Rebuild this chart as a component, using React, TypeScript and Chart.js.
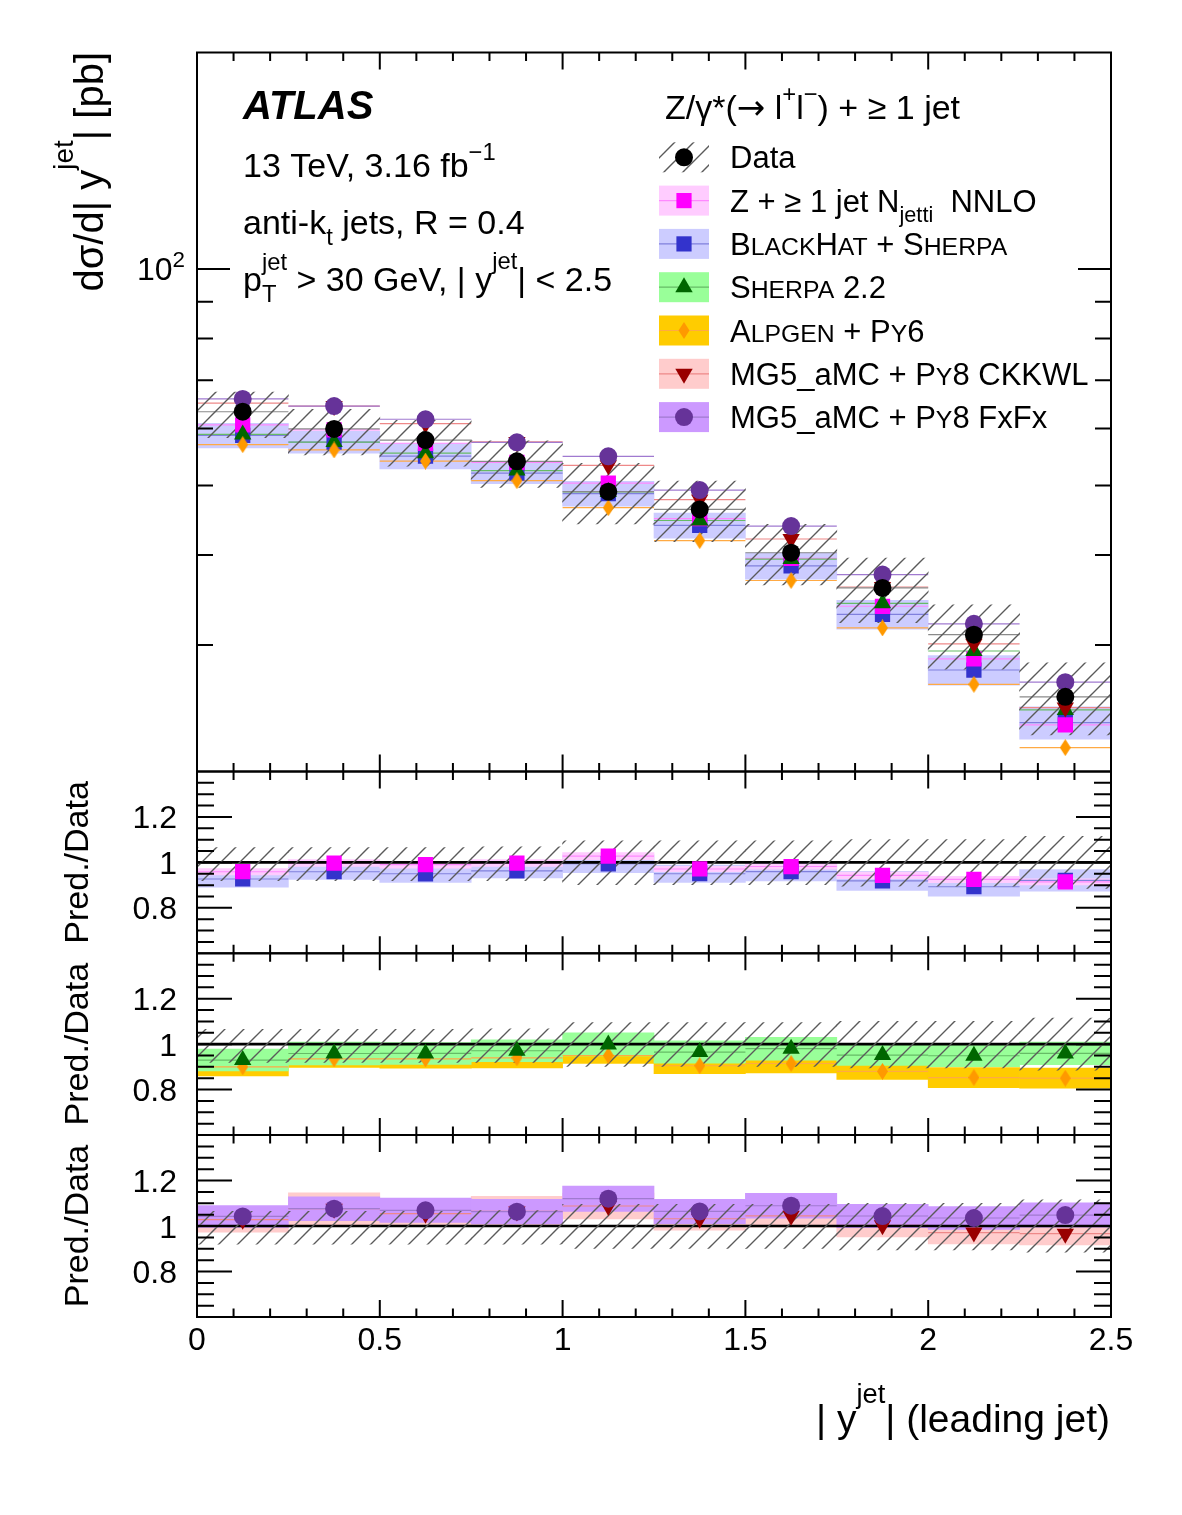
import { useEffect, useRef } from "react";
import { Chart, registerables } from "chart.js";

Chart.register(...registerables);

// ---------------- data ----------------
// |y| bins of the leading jet
const binEdges = [0, 0.25, 0.5, 0.75, 1.0, 1.25, 1.5, 1.75, 2.0, 2.25, 2.5];
const binCenters = [0.125, 0.375, 0.625, 0.875, 1.125, 1.375, 1.625, 1.875, 2.125, 2.375];

// measured dσ/d|y| [pb] with relative total uncertainty
const dataXs = [63.3, 59.9, 57.8, 54.0, 49.0, 46.3, 40.3, 36.0, 31.0, 25.4];
const dataUncUp = [0.065, 0.065, 0.065, 0.068, 0.095, 0.095, 0.095, 0.1, 0.1, 0.115];
const dataUncDown = [0.08, 0.08, 0.08, 0.08, 0.098, 0.098, 0.098, 0.105, 0.105, 0.115];

// predictions [pb] and their relative uncertainties
const nnloXs = [60.7, 59.72, 57.22, 53.84, 50.37, 44.96, 39.57, 33.95, 28.68, 23.22];
const nnloUnc = [0.015, 0.015, 0.015, 0.015, 0.015, 0.012, 0.012, 0.015, 0.015, 0.015];

const blackhatXs = [58.68, 57.44, 54.91, 52.0, 48.71, 43.99, 38.65, 33.08, 27.68, 23.39];
const blackhatUnc = [0.039, 0.035, 0.04, 0.033, 0.04, 0.04, 0.042, 0.046, 0.047, 0.052];

const sherpaXs = [58.87, 57.44, 55.43, 52.43, 48.95, 44.68, 39.49, 34.27, 29.42, 24.36];
const sherpaUnc = [0.052, 0.052, 0.05, 0.049, 0.051, 0.051, 0.051, 0.048, 0.051, 0.052];

const alpgenXs = [56.97, 56.01, 54.04, 50.76, 46.55, 41.9, 36.87, 31.68, 26.44, 21.59];
const alpgenUnc = [0.044, 0.04, 0.044, 0.047, 0.037, 0.039, 0.045, 0.04, 0.052, 0.052];

const ckkwlXs = [65.07, 64.45, 60.92, 57.46, 53.31, 47.78, 42.11, 36.11, 30.1, 24.54];
const ckkwlUnc = [0.054, 0.065, 0.053, 0.062, 0.052, 0.049, 0.048, 0.051, 0.051, 0.051];

const fxfxXs = [65.96, 64.45, 61.79, 57.4, 54.88, 49.26, 43.89, 37.58, 32.09, 26.62];
const fxfxUnc = [0.046, 0.049, 0.05, 0.051, 0.05, 0.05, 0.05, 0.049, 0.049, 0.051];

// axis ticks
const xTickLabels = ["0", "0.5", "1", "1.5", "2", "2.5"];
const ratioTickLabels = ["0.8", "1", "1.2"];
const logMajorTicks = [100];
const logMinorTicks = [30, 40, 50, 60, 70, 80, 90];

// ---------------- styling ----------------
const FONT = "'Liberation Sans', Arial, Helvetica, sans-serif";
const SYMBOL_FONT = "'DejaVu Sans', 'Liberation Sans', sans-serif";
const W = 1182;
const H = 1515;
const FRAME_L = 197;
const FRAME_R = 1111;

type MarkerKind = "circle" | "square" | "triangle" | "invtriangle" | "diamond";
type Run = { t: string; k?: "sup" | "sub" | "sc" | "stack"; dy?: number; t2?: string; f?: string };

interface Series {
  values: number[];
  unc: number[];
  marker: MarkerKind;
  color: string;
  band: string;
  line: string;
  legend: Run[];
}

const nnlo: Series = {
  values: nnloXs, unc: nnloUnc, marker: "square",
  color: "#ff00ff", band: "#ffccff", line: "#ff88ff",
  legend: [{ t: "Z + \u2265 1 jet N" }, { t: "jetti", k: "sub" }, { t: "  NNLO" }],
};
const blackhat: Series = {
  values: blackhatXs, unc: blackhatUnc, marker: "square",
  color: "#3333cc", band: "#ccccff", line: "#8080dd",
  legend: [{ t: "B" }, { t: "LACK", k: "sc" }, { t: "H" }, { t: "AT", k: "sc" }, { t: " + " }, { t: "S" }, { t: "HERPA", k: "sc" }],
};
const sherpa: Series = {
  values: sherpaXs, unc: sherpaUnc, marker: "triangle",
  color: "#006600", band: "#99ff99", line: "#66bb66",
  legend: [{ t: "S" }, { t: "HERPA", k: "sc" }, { t: " 2.2" }],
};
const alpgen: Series = {
  values: alpgenXs, unc: alpgenUnc, marker: "diamond",
  color: "#ff9900", band: "#ffcc00", line: "#ffaa44",
  legend: [{ t: "A" }, { t: "LPGEN", k: "sc" }, { t: " + " }, { t: "P" }, { t: "Y", k: "sc" }, { t: "6" }],
};
const ckkwl: Series = {
  values: ckkwlXs, unc: ckkwlUnc, marker: "invtriangle",
  color: "#990000", band: "#ffcccc", line: "#ee8888",
  legend: [{ t: "MG5_aMC + " }, { t: "P" }, { t: "Y", k: "sc" }, { t: "8 CKKWL" }],
};
const fxfx: Series = {
  values: fxfxXs, unc: fxfxUnc, marker: "circle",
  color: "#663399", band: "#cc99ff", line: "#a07ad0",
  legend: [{ t: "MG5_aMC + " }, { t: "P" }, { t: "Y", k: "sc" }, { t: "8 FxFx" }],
};
const dataSeries: Series = {
  values: dataXs, unc: dataUncUp, marker: "circle",
  color: "#000000", band: "none", line: "#8a8a8a",
  legend: [{ t: "Data" }],
};

const legendRows: Series[] = [dataSeries, nnlo, blackhat, sherpa, alpgen, ckkwl, fxfx];

interface PanelCfg {
  top: number;
  bottom: number;
  ratio: boolean;
  bands: Series[];
  lines: Series[];
  markers: Series[];
  last?: boolean;
}

const panels: PanelCfg[] = [
  {
    top: 52.5, bottom: 771.5, ratio: false,
    bands: [blackhat],
    lines: [blackhat, nnlo, sherpa, alpgen, ckkwl, fxfx, dataSeries],
    markers: [blackhat, nnlo, sherpa, alpgen, ckkwl, fxfx, dataSeries],
  },
  { top: 771.5, bottom: 953.3, ratio: true, bands: [blackhat, nnlo], lines: [blackhat, nnlo], markers: [blackhat, nnlo] },
  { top: 953.3, bottom: 1135, ratio: true, bands: [alpgen, sherpa], lines: [alpgen, sherpa], markers: [alpgen, sherpa] },
  { top: 1135, bottom: 1317, ratio: true, bands: [ckkwl, fxfx], lines: [ckkwl, fxfx], markers: [ckkwl, fxfx], last: true },
];

// ---------------- helpers ----------------
function font(size: number, bold = false, italic = false, family = FONT) {
  return `${italic ? "italic " : ""}${bold ? "bold " : ""}${size}px ${family}`;
}

function runStyle(r: Run, base: number) {
  if (r.k === "sup") return { size: base * 0.7, dy: (r.dy ?? -0.45) * base };
  if (r.k === "sub") return { size: base * 0.7, dy: (r.dy ?? 0.32) * base };
  if (r.k === "sc") return { size: base * 0.8, dy: 0 };
  return { size: base, dy: 0 };
}

function richWidth(ctx: CanvasRenderingContext2D, runs: Run[], base: number, bold = false, italic = false) {
  let w = 0;
  for (const r of runs) {
    if (r.k === "stack") {
      ctx.font = font(base * 0.7, bold, italic);
      w += Math.max(ctx.measureText(r.t).width, ctx.measureText(r.t2 || "").width);
    } else {
      const s = runStyle(r, base);
      ctx.font = font(s.size, bold, italic, r.f || FONT);
      w += ctx.measureText(r.t).width;
    }
  }
  return w;
}

function drawRich(
  ctx: CanvasRenderingContext2D, runs: Run[], x: number, y: number, base: number,
  align: "left" | "right" | "center" = "left", bold = false, italic = false,
) {
  const w = richWidth(ctx, runs, base, bold, italic);
  let cx = align === "right" ? x - w : align === "center" ? x - w / 2 : x;
  ctx.textAlign = "left";
  ctx.textBaseline = "alphabetic";
  ctx.fillStyle = "#000";
  for (const r of runs) {
    if (r.k === "stack") {
      ctx.font = font(base * 0.7, bold, italic);
      ctx.fillText(r.t, cx, y + (r.dy ?? -0.6) * base);
      ctx.fillText(r.t2 || "", cx, y + 0.32 * base);
      cx += Math.max(ctx.measureText(r.t).width, ctx.measureText(r.t2 || "").width);
    } else {
      const s = runStyle(r, base);
      ctx.font = font(s.size, bold, italic, r.f || FONT);
      ctx.fillText(r.t, cx, y + s.dy);
      cx += ctx.measureText(r.t).width;
    }
  }
}

function drawRichRotated(ctx: CanvasRenderingContext2D, runs: Run[], x: number, y: number, base: number, align: "left" | "right" | "center") {
  ctx.save();
  ctx.translate(x, y);
  ctx.rotate(-Math.PI / 2);
  drawRich(ctx, runs, 0, 0, base, align);
  ctx.restore();
}

function makeHatch(ctx: CanvasRenderingContext2D): CanvasPattern {
  const s = 19;
  const tile = document.createElement("canvas");
  tile.width = s;
  tile.height = s;
  const c = tile.getContext("2d")!;
  c.strokeStyle = "#5a5a5a";
  c.lineWidth = 1.4;
  c.beginPath();
  c.moveTo(-2, s + 2);
  c.lineTo(s + 2, -2);
  c.moveTo(-2, 2);
  c.lineTo(2, -2);
  c.moveTo(s - 2, s + 2);
  c.lineTo(s + 2, s - 2);
  c.stroke();
  return ctx.createPattern(tile, "repeat")!;
}

function makeDiamond(color: string): HTMLCanvasElement {
  const c = document.createElement("canvas");
  c.width = 11;
  c.height = 17;
  const g = c.getContext("2d")!;
  g.fillStyle = color;
  g.beginPath();
  g.moveTo(5.5, 0);
  g.lineTo(11, 8.5);
  g.lineTo(5.5, 17);
  g.lineTo(0, 8.5);
  g.closePath();
  g.fill();
  return c;
}

function pointOpts(kind: MarkerKind, color: string) {
  switch (kind) {
    case "circle":
      return { pointStyle: "circle", pointRadius: 9, rotation: 0 };
    case "square":
      return { pointStyle: "rect", pointRadius: 10.8, rotation: 0 };
    case "triangle":
      return { pointStyle: "triangle", pointRadius: 10, rotation: 0 };
    case "invtriangle":
      return { pointStyle: "triangle", pointRadius: 10, rotation: 180 };
    default:
      return { pointStyle: makeDiamond(color), pointRadius: 8.5, rotation: 0 };
  }
}

function drawMarker(ctx: CanvasRenderingContext2D, kind: MarkerKind, x: number, y: number, color: string) {
  ctx.fillStyle = color;
  ctx.beginPath();
  if (kind === "circle") ctx.arc(x, y, 9, 0, Math.PI * 2);
  else if (kind === "square") ctx.rect(x - 7.6, y - 7.6, 15.2, 15.2);
  else if (kind === "triangle") {
    ctx.moveTo(x, y - 10);
    ctx.lineTo(x + 8.7, y + 5);
    ctx.lineTo(x - 8.7, y + 5);
  } else if (kind === "invtriangle") {
    ctx.moveTo(x, y + 10);
    ctx.lineTo(x + 8.7, y - 5);
    ctx.lineTo(x - 8.7, y - 5);
  } else {
    ctx.moveTo(x, y - 8.5);
    ctx.lineTo(x + 5.5, y);
    ctx.lineTo(x, y + 8.5);
    ctx.lineTo(x - 5.5, y);
  }
  ctx.closePath();
  ctx.fill();
}

// value shown in a panel: absolute in the main pad, Pred./Data in the ratio pads
function shown(cfg: PanelCfg, s: Series, i: number) {
  return cfg.ratio ? s.values[i] / dataXs[i] : s.values[i];
}

function buildChart(canvas: HTMLCanvasElement, cfg: PanelCfg): Chart {
  const ctx = canvas.getContext("2d")!;
  const hatch = makeHatch(ctx);

  const datasets: any[] = [];
  for (const s of cfg.bands) {
    datasets.push({
      type: "bar",
      data: binCenters.map((x, i) => {
        const v = shown(cfg, s, i);
        return { x, y: [v * (1 - s.unc[i]), v * (1 + s.unc[i])] };
      }),
      backgroundColor: s.band,
      borderWidth: 0,
      grouped: false,
      barPercentage: 1,
      categoryPercentage: 1,
    });
  }
  datasets.push({
    type: "bar",
    role: "hatch",
    data: binCenters.map((x, i) => {
      const v = cfg.ratio ? 1 : dataXs[i];
      return { x, y: [v * (1 - dataUncDown[i]), v * (1 + dataUncUp[i])] };
    }),
    backgroundColor: hatch,
    borderWidth: 0,
    grouped: false,
    barPercentage: 1,
    categoryPercentage: 1,
  });
  for (const s of cfg.markers) {
    const p = pointOpts(s.marker, s.color);
    datasets.push({
      type: "scatter",
      data: binCenters.map((x, i) => ({ x, y: shown(cfg, s, i) })),
      pointStyle: p.pointStyle,
      pointRadius: p.pointRadius,
      pointRotation: p.rotation,
      pointBackgroundColor: s.color,
      pointBorderWidth: 0,
      showLine: false,
    });
  }
  // first entry is painted first
  datasets.forEach((d, i) => (d.order = datasets.length - i));

  const plugin = {
    id: "pad",
    beforeDatasetDraw(chart: any, args: any) {
      const ds = chart.data.datasets[args.index];
      if (ds.role !== "hatch") return;
      const { ctx: c, chartArea: a } = chart;
      const xs = chart.scales.x;
      const ys = chart.scales.y;
      c.save();
      c.beginPath();
      c.rect(a.left, a.top, a.right - a.left, a.bottom - a.top);
      c.clip();
      c.lineWidth = 1.2;
      for (const s of cfg.lines) {
        if (cfg.ratio && s === dataSeries) continue;
        c.strokeStyle = s.line;
        for (let i = 0; i < binCenters.length; i++) {
          const y = ys.getPixelForValue(shown(cfg, s, i));
          c.beginPath();
          c.moveTo(xs.getPixelForValue(binEdges[i]), y);
          c.lineTo(xs.getPixelForValue(binEdges[i + 1]), y);
          c.stroke();
        }
      }
      if (cfg.ratio) {
        const y1 = ys.getPixelForValue(1);
        c.strokeStyle = "#000";
        c.lineWidth = 2.6;
        c.beginPath();
        c.moveTo(a.left, y1);
        c.lineTo(a.right, y1);
        c.stroke();
      }
      c.restore();
    },
    afterDraw(chart: any) {
      const { ctx: c, chartArea: a } = chart;
      const xs = chart.scales.x;
      const ys = chart.scales.y;
      c.save();
      c.strokeStyle = "#000";
      c.lineWidth = 2;
      c.strokeRect(a.left, a.top, a.right - a.left, a.bottom - a.top);

      // x ticks, inward on top and bottom
      c.beginPath();
      for (let k = 0; k <= 25; k++) {
        const x = xs.getPixelForValue(k / 10);
        const len = k % 5 === 0 ? 17 : 8.5;
        c.moveTo(x, a.bottom);
        c.lineTo(x, a.bottom - len);
        c.moveTo(x, a.top);
        c.lineTo(x, a.top + len);
      }
      // y ticks, inward on left and right
      const yTicks: [number, number][] = [];
      if (cfg.ratio) {
        for (let k = 13; k <= 27; k++) {
          const v = k * 0.05;
          yTicks.push([v, k % 4 === 0 ? 35 : 17]);
        }
      } else {
        logMajorTicks.forEach((v) => yTicks.push([v, 33]));
        logMinorTicks.forEach((v) => yTicks.push([v, 16]));
      }
      for (const [v, len] of yTicks) {
        const y = ys.getPixelForValue(v);
        c.moveTo(a.left, y);
        c.lineTo(a.left + len, y);
        c.moveTo(a.right, y);
        c.lineTo(a.right - len, y);
      }
      c.stroke();

      if (cfg.ratio) {
        for (const lab of ratioTickLabels) {
          const y = ys.getPixelForValue(Number(lab));
          drawRich(c, [{ t: lab }], 177, y + 11.5, 32, "right");
        }
        drawRichRotated(c, [{ t: "Pred./Data" }], 88, (a.top + a.bottom) / 2, 34, "center");
        if (cfg.last) {
          for (const lab of xTickLabels) {
            drawRich(c, [{ t: lab }], xs.getPixelForValue(Number(lab)), 1350, 32, "center");
          }
          drawRich(
            c,
            [{ t: "| y" }, { t: "jet", k: "sup", dy: -0.75 }, { t: "| (leading jet)" }],
            1110, 1432, 39, "right",
          );
        }
      } else {
        // y axis
        const y100 = ys.getPixelForValue(100);
        drawRich(c, [{ t: "10" }, { t: "2", k: "sup", dy: -0.42 }], 185, y100 + 11.5, 32, "right");
        drawRichRotated(
          c,
          [{ t: "d\u03c3/d| y" }, { t: "jet", k: "sup", dy: -0.75 }, { t: "| [pb]" }],
          103, 52, 40, "right",
        );

        // labels
        drawRich(c, [{ t: "ATLAS" }], 243, 119, 40, "left", true, true);
        drawRich(c, [{ t: "13 TeV, 3.16 fb" }, { t: "\u22121", k: "sup", dy: -0.5 }], 243, 177, 34);
        drawRich(c, [{ t: "anti-k" }, { t: "t", k: "sub" }, { t: " jets, R = 0.4" }], 243, 234, 34);
        drawRich(
          c,
          [{ t: "p" }, { t: "jet", t2: "T", k: "stack", dy: -0.62 }, { t: " > 30 GeV, | y" }, { t: "jet", k: "sup", dy: -0.65 }, { t: "| < 2.5" }],
          243, 291, 34,
        );

        // legend
        drawRich(
          c,
          [
            { t: "Z/\u03b3*(" },
            { t: "\u2192", f: SYMBOL_FONT },
            { t: " l" },
            { t: "+", k: "sup", dy: -0.5 },
            { t: "l" },
            { t: "\u2212", k: "sup", dy: -0.5 },
            { t: ") + \u2265 1 jet" },
          ],
          665, 119, 34,
        );
        legendRows.forEach((s, i) => {
          const cy = 157.3 + i * 43.3;
          const bx = 659;
          const bw = 50;
          if (s === dataSeries) {
            c.fillStyle = hatch;
            c.fillRect(bx, cy - 15, bw, 30);
          } else {
            c.fillStyle = s.band;
            c.fillRect(bx, cy - 15, bw, 30);
            c.strokeStyle = s.line;
            c.lineWidth = 1.2;
            c.beginPath();
            c.moveTo(bx, cy);
            c.lineTo(bx + bw, cy);
            c.stroke();
          }
          drawMarker(c, s.marker, bx + bw / 2, cy, s.color);
          drawRich(c, s.legend, 730, cy + 11, 31);
        });
      }
      c.restore();
    },
  };

  return new Chart(canvas, {
    type: "scatter",
    data: { datasets },
    options: {
      responsive: false,
      animation: false,
      devicePixelRatio: 1,
      events: [],
      layout: { padding: { left: FRAME_L, right: W - FRAME_R, top: cfg.top, bottom: H - cfg.bottom } },
      plugins: { legend: { display: false }, tooltip: { enabled: false } },
      scales: {
        x: { type: "linear", min: 0, max: 2.5, offset: false, grid: { offset: false }, display: false },
        y: cfg.ratio
          ? { type: "linear", min: 0.6, max: 1.4, display: false }
          : { type: "logarithmic", min: 20, max: 200, display: false },
      },
    } as any,
    plugins: [plugin as any],
  });
}

export default function App() {
  const r0 = useRef<HTMLCanvasElement>(null);
  const r1 = useRef<HTMLCanvasElement>(null);
  const r2 = useRef<HTMLCanvasElement>(null);
  const r3 = useRef<HTMLCanvasElement>(null);
  const refs = [r0, r1, r2, r3];

  useEffect(() => {
    const charts = panels.map((p, i) => buildChart(refs[i].current!, p));
    return () => charts.forEach((ch) => ch.destroy());
  }, []);

  return (
    <div style={{ position: "absolute", left: 0, top: 0, width: W, height: H, background: "#fff", overflow: "hidden" }}>
      {refs.map((r, i) => (
        <canvas
          key={i}
          ref={r}
          width={W}
          height={H}
          style={{ position: "absolute", left: 0, top: 0, width: W, height: H }}
        />
      ))}
    </div>
  );
}
